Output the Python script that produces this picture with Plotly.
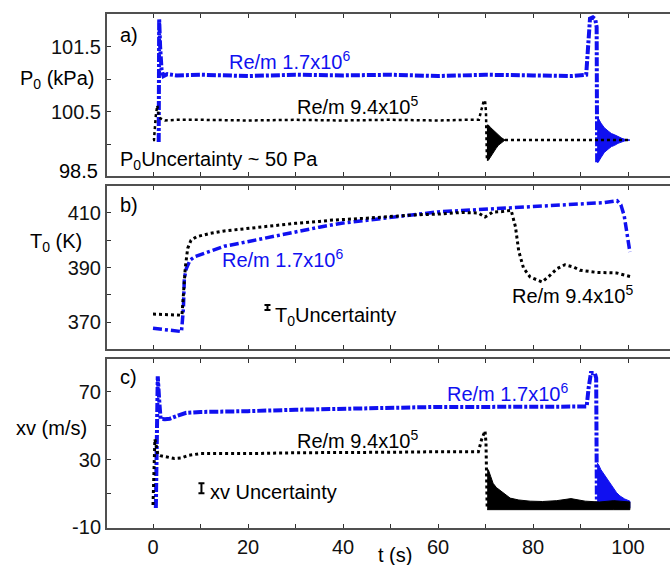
import plotly.graph_objects as go

# ---------------- data ----------------
# Panel a) stagnation pressure P0 (kPa)
a_blue_t = [1.2, 1.3, 1.5, 1.8, 2.2, 3, 5, 10, 20, 30, 40, 50, 60, 70, 80, 88, 91.2, 91.6, 92.0, 92.6, 93.1, 93.4, 93.5]
a_blue_p = [100.04, 101.92, 101.5, 101.15, 101.05, 101.08, 101.06, 101.07, 101.05, 101.07, 101.06, 101.07, 101.05,
            101.07, 101.06, 101.05, 101.07, 101.6, 101.93, 101.95, 101.92, 101.8, 99.73]
a_blue_burst_t = [93.5, 93.7, 94.3, 95.0, 95.8, 96.5, 97.2, 97.9, 98.6, 99.4, 100.4]
a_blue_burst_hi = [100.42, 100.41, 100.33, 100.26, 100.21, 100.17, 100.15, 100.12, 100.10, 100.08, 100.07]
a_blue_burst_lo = [99.73, 99.73, 99.80, 99.88, 99.93, 99.97, 99.99, 100.02, 100.04, 100.06, 100.07]

a_black_t = [0, 0.2, 0.6, 0.9, 1.2, 1.6, 2.5, 5, 10, 20, 30, 40, 50, 60, 66, 68.6, 69.2, 69.6, 69.9, 70.1, 70.3]
a_black_p = [100.07, 100.07, 100.45, 100.6, 100.45, 100.4, 100.37, 100.38, 100.38, 100.37, 100.38, 100.37, 100.38,
             100.37, 100.38, 100.38, 100.55, 100.66, 100.68, 100.5, 99.76]
a_black_burst_t = [70.3, 70.6, 71.1, 71.7, 72.2, 72.7, 73.3, 74.1]
a_black_burst_hi = [100.30, 100.30, 100.26, 100.22, 100.18, 100.15, 100.11, 100.07]
a_black_burst_lo = [99.76, 99.76, 99.82, 99.88, 99.94, 99.99, 100.03, 100.07]
a_black_tail_t = [74.1, 80, 85, 90, 95, 100.4]
a_black_tail_p = [100.07, 100.07, 100.06, 100.07, 100.07, 100.07]

# Panel b) stagnation temperature T0 (K)
b_blue_t = [0, 3, 6.0, 6.4, 6.6, 7.0, 7.8, 8.8, 10.9, 13, 15, 18, 20, 25, 30, 35, 40, 45, 50, 55, 60, 65, 70, 75,
            80, 85, 90, 95, 97.7, 98.5, 99.2, 100.4]
b_blue_T = [367.7, 367.0, 366.5, 375, 386, 389.5, 392.7, 394.0, 395.3, 396.5, 397.8, 398.8, 399.5, 401.5, 403.1,
            404.8, 406.3, 407.4, 408.5, 409.5, 410.4, 410.9, 411.4, 411.7, 412.3, 412.8, 413.4, 413.8, 414.5,
            413.0, 409.0, 395.7]
b_black_t = [0, 2, 4, 6.1, 6.4, 6.8, 7.3, 8.0, 9.2, 12, 15, 20, 25, 30, 35, 37.8, 45, 50, 55, 60, 65, 68.5, 69.9,
             71.5, 73.5, 75.4, 76.3, 77.0, 78.0, 79.4, 81.9, 83.5, 85.0, 86.7, 88.5, 89.9, 93.4, 97.6, 100.7]
b_black_T = [372.9, 372.7, 372.6, 372.5, 380, 390, 397, 400, 401.3, 402.5, 403.4, 404.4, 405.3, 406.2, 406.9,
             407.4, 408.1, 408.8, 409.3, 409.6, 410.2, 410.0, 408.5, 410.3, 410.5, 411.0, 405, 396, 389.8, 386.5,
             384.7, 387.0, 389.5, 391.0, 390.2, 389.0, 388.2, 388.0, 386.6]

# Panel c) xv (m/s)
c_blue_t = [0.6, 0.8, 1.0, 1.3, 1.6, 2.5, 3.5, 5, 7, 10, 15, 20, 30, 40, 50, 60, 70, 80, 88, 91.3, 91.7, 92.2,
            93.0, 93.3, 93.45]
c_blue_v = [1.5, 40, 79, 65, 54, 53.8, 54, 55.6, 57.5, 58, 58.5, 58.5, 59.3, 60, 60.5, 61, 61, 61.2, 61, 61.2,
            72, 81, 81, 78, 2]
c_blue_burst_t = [93.5, 93.8, 94.3, 95.0, 95.6, 96.3, 96.9, 97.6, 98.3, 99.3, 100.4]
c_blue_burst_hi = [28, 27, 24, 21, 19, 16, 13, 10.5, 8.6, 6.8, 5.5]
c_blue_burst_lo = [1.5, 1.5, 1.5, 1.5, 1.5, 1.5, 1.5, 1.5, 1.5, 1.5, 1.5]

c_black_t = [0, 0.2, 0.4, 0.7, 1.0, 1.5, 3, 4.5, 6, 7.5, 10, 20, 30, 40, 50, 60, 68.5, 69.2, 69.9, 70.1, 70.35]
c_black_v = [3.2, 20, 42, 38, 33, 32.3, 31.5, 30.6, 31, 32.5, 33.5, 33.5, 34, 34, 34.3, 34.6, 34.6, 42, 46.9,
             40, 1]
c_black_burst_t = [70.35, 70.6, 71.1, 71.6, 72.3, 73, 74, 75.2, 77, 79.4, 82, 85, 88, 91, 94, 97, 100.4]
c_black_burst_hi = [24, 24, 20, 16, 13.5, 12, 9.5, 7.3, 6.2, 5.5, 5.3, 5.8, 7, 5.5, 5, 5.8, 5]
c_black_burst_lo = [0.5] * len(c_black_burst_t)

# uncertainty bars
b_unc_t, b_unc_T, b_unc_err = [24.1], [375.3], [0.9]
c_unc_t, c_unc_v, c_unc_err = [10.2], [13.1], [2.9]

# axis ticks
x_tickvals = [0, 10, 20, 30, 40, 50, 60, 70, 80, 90, 100]
x_ticktext = ["0", "", "20", "", "40", "", "60", "", "80", "", "100"]
a_tickvals = [100.0, 100.5, 101.0, 101.5]
a_ticktext = ["", "100.5", "", "101.5"]
b_tickvals = [370, 380, 390, 400, 410]
b_ticktext = ["370", "", "390", "", "410"]
c_tickvals = [-10, 10, 30, 50, 70]
c_ticktext = ["-10", "", "30", "", "70"]

# ---------------- figure ----------------
BLUE = "#1010f0"
BLACK = "#000000"
FONT = "Liberation Sans, Arial, sans-serif"
W, H = 670, 565
ML, MR, MT, MB = 107, 0, 14, 37
PW, PH = W - ML - MR, H - MT - MB
BLUE_DASH = "9px,2px,3px,2px"
BLUE_DASH_B = "9px,3px,3px,3px"


def px2x(px):
    return (px - ML) / PW


def px2y(py):
    return (H - MB - py) / PH


fig = go.Figure()


def band(t, hi, lo, color, xa, ya):
    fig.add_trace(go.Scatter(x=list(t) + list(t)[::-1], y=list(hi) + list(lo)[::-1], fill="toself",
                             fillcolor=color, mode="lines", line=dict(color=color, width=1),
                             xaxis=xa, yaxis=ya, hoverinfo="skip", showlegend=False))


def line(t, v, color, dash, width, xa, ya):
    fig.add_trace(go.Scatter(x=t, y=v, mode="lines", line=dict(color=color, dash=dash, width=width),
                             xaxis=xa, yaxis=ya, showlegend=False))


# panel a (x, y)
line(a_blue_t, a_blue_p, BLUE, BLUE_DASH, 4, "x", "y")
band(a_blue_burst_t, a_blue_burst_hi, a_blue_burst_lo, BLUE, "x", "y")
line(a_black_t, a_black_p, BLACK, "dot", 2.5, "x", "y")
band(a_black_burst_t, a_black_burst_hi, a_black_burst_lo, BLACK, "x", "y")
line(a_black_tail_t, a_black_tail_p, BLACK, "dot", 2.5, "x", "y")

# panel b (x2, y2)
line(b_blue_t, b_blue_T, BLUE, BLUE_DASH_B, 3.5, "x2", "y2")
line(b_black_t, b_black_T, BLACK, "dot", 3, "x2", "y2")
fig.add_trace(go.Scatter(x=b_unc_t, y=b_unc_T, mode="markers", marker=dict(size=1, color=BLACK),
                         error_y=dict(type="data", array=b_unc_err, color=BLACK, thickness=2, width=3),
                         xaxis="x2", yaxis="y2", showlegend=False))

# panel c (x3, y3)
line(c_blue_t, c_blue_v, BLUE, BLUE_DASH, 4, "x3", "y3")
band(c_blue_burst_t, c_blue_burst_hi, c_blue_burst_lo, BLUE, "x3", "y3")
line(c_black_t, c_black_v, BLACK, "dot", 3, "x3", "y3")
band(c_black_burst_t, c_black_burst_hi, c_black_burst_lo, BLACK, "x3", "y3")
fig.add_trace(go.Scatter(x=c_unc_t, y=c_unc_v, mode="markers", marker=dict(size=1, color=BLACK),
                         error_y=dict(type="data", array=c_unc_err, color=BLACK, thickness=2, width=3),
                         xaxis="x3", yaxis="y3", showlegend=False))

xr = [(ML - 153) / 4.75, (W - 153) / 4.75]
axline = dict(showline=True, linecolor="#505050", linewidth=2, ticks="inside", ticklen=4, tickwidth=1,
              tickcolor="#303030", showgrid=False, zeroline=False,
              tickfont=dict(family=FONT, size=20, color="#111"))

doms = {
    "a": [px2y(176), px2y(14)],
    "b": [px2y(349), px2y(186)],
    "c": [px2y(528), px2y(359)],
}

for i, (key, yr, tv, tt) in enumerate([
    ("a", [99.52, 102.0], a_tickvals, a_ticktext),
    ("b", [360.1, 419.9], b_tickvals, b_ticktext),
    ("c", [-10.3, 89.2], c_tickvals, c_ticktext),
]):
    sfx = "" if i == 0 else str(i + 1)
    fig.layout["xaxis" + sfx] = dict(axline, domain=[0, 1], range=xr, anchor="y" + sfx, mirror="ticks",
                                     tickmode="array", tickvals=x_tickvals,
                                     ticktext=x_ticktext if key == "c" else [""] * len(x_tickvals),
                                     showticklabels=(key == "c"))
    fig.layout["yaxis" + sfx] = dict(axline, domain=doms[key], range=yr, anchor="x" + sfx, mirror=False,
                                     tickmode="array", tickvals=tv, ticktext=tt)

ann = []


def txt(s, px, py, color=BLACK, xanchor="left", size=20):
    ann.append(dict(text=s, x=px2x(px), y=px2y(py), xref="paper", yref="paper", xanchor=xanchor,
                    yanchor="middle", showarrow=False, font=dict(family=FONT, size=size, color=color)))


txt("a)", 118, 35)
txt("Re/m 1.7x10<sup>6</sup>", 227, 60, BLUE)
txt("Re/m 9.4x10<sup>5</sup>", 295, 105)
txt("P<sub>0</sub>Uncertainty ~ 50 Pa", 118, 160)
txt("b)", 118, 205)
txt("Re/m 1.7x10<sup>6</sup>", 220, 258, BLUE)
txt("Re/m 9.4x10<sup>5</sup>", 510, 294)
txt("T<sub>0</sub>Uncertainty", 273, 316)
txt("c)", 118, 377)
txt("Re/m 1.7x10<sup>6</sup>", 445, 392, BLUE)
txt("Re/m 9.4x10<sup>5</sup>", 295, 440)
txt("xv Uncertainty", 208, 492)
txt("P<sub>0</sub> (kPa)", 57, 79, xanchor="center")
txt("T<sub>0</sub> (K)", 56, 242, xanchor="center")
txt("xv (m/s)", 51, 428, xanchor="center")
txt("98.5", 100, 171, xanchor="right")
txt("t (s)", 395, 555, xanchor="center")

fig.update_layout(width=W, height=H, margin=dict(l=ML, r=MR, t=MT, b=MB), paper_bgcolor="white",
                  plot_bgcolor="white", annotations=ann, showlegend=False,
                  font=dict(family=FONT, size=20, color="#111"))

fig.write_html("out.html")
